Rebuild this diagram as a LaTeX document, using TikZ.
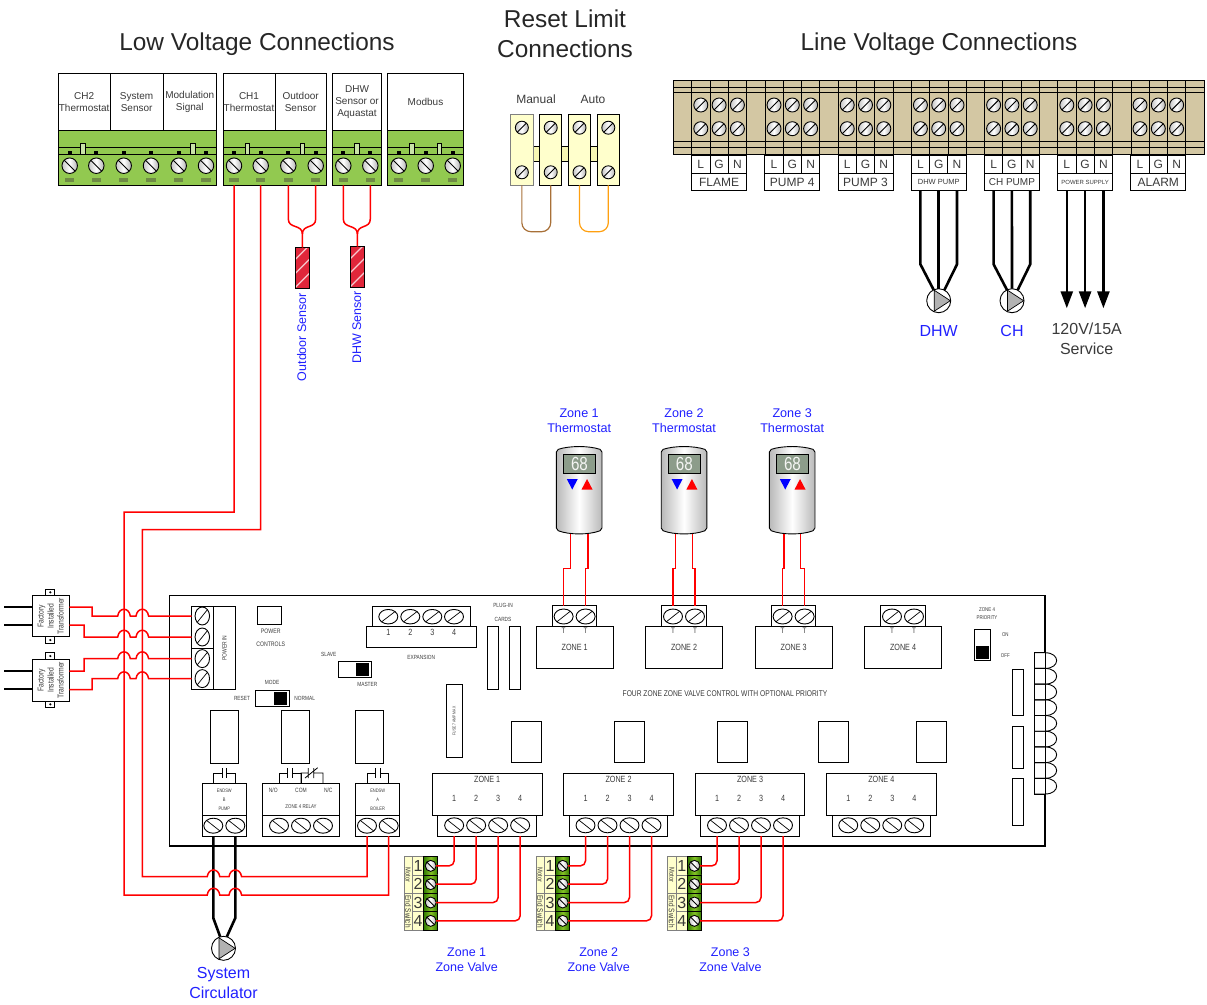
\documentclass[tikz,border=0pt]{standalone}
\usepackage{fontspec}
\setmainfont{Liberation Sans}
\newfontfamily\boardfont[FakeStretch=0.8]{Liberation Sans}
\usepackage{tikz}
\usetikzlibrary{arrows.meta,shapes}
\definecolor{lvgreen}{HTML}{92C950}
\definecolor{padolive}{HTML}{6E8A45}
\definecolor{beige}{HTML}{D3C7A3}
\definecolor{cream}{HTML}{FFFFCC}
\definecolor{palebar}{HTML}{F6F6B4}
\definecolor{darkgreen}{HTML}{2F7A00}
\definecolor{lightgreen}{HTML}{86C226}
\definecolor{labelblue}{HTML}{2020FF}
\definecolor{boardgray}{HTML}{3A3A3A}
\definecolor{lcdgray}{HTML}{8C9C8A}
\definecolor{jumpbrown}{HTML}{A87038}
\definecolor{jumporange}{HTML}{FFA010}
\definecolor{sensorred}{HTML}{E0263A}
\tikzset{
  bx/.style 2 args={draw=black, line width=0.9pt, fill=white, inner sep=0pt, outer sep=0pt, minimum width={#1*1pt}, minimum height={#2*1pt}},
  fscrew/.style={circle, draw=black, line width=0.9pt, inner sep=0pt, outer sep=0pt, minimum size=#1pt, left color=gray!45, right color=gray!60, middle color=white,
    path picture={\draw[line width=0.9pt] (path picture bounding box.south west) -- (path picture bounding box.north east);}},
  bscrew/.style={circle, draw=black, line width=0.9pt, inner sep=0pt, outer sep=0pt, minimum size=#1pt, left color=gray!45, right color=gray!60, middle color=white,
    path picture={\draw[line width=0.9pt] (path picture bounding box.north west) -- (path picture bounding box.south east);}},
  fflat/.style 2 args={ellipse, draw=black, line width=0.9pt, fill=white, inner sep=0pt, outer sep=0pt, minimum width=#1pt, minimum height=#2pt,
    path picture={\draw[line width=0.7pt] (path picture bounding box.south west) -- (path picture bounding box.north east);}},
  bflat/.style 2 args={ellipse, draw=black, line width=0.9pt, fill=white, inner sep=0pt, outer sep=0pt, minimum width=#1pt, minimum height=#2pt,
    path picture={\draw[line width=0.7pt] (path picture bounding box.north west) -- (path picture bounding box.south east);}},
  btxt/.style={font=\boardfont\fontsize{#1}{10}\selectfont, text=boardgray, inner sep=0pt, align=center},
  atxt/.style={font=\fontsize{#1}{12}\selectfont, text=boardgray, inner sep=0pt, align=center},
  bluetxt/.style={font=\fontsize{#1}{15}\selectfont, text=labelblue, inner sep=0pt, align=center},
  titletxt/.style={font=\fontsize{24.4}{30}\selectfont, text=black!85, inner sep=0pt, align=center},
  redwire/.style={draw=red, line width=1.5pt},
  blackwire/.style={draw=black, line width=2.6pt},
  sensorbox/.style={draw=black, line width=0.9pt, fill=sensorred, inner sep=0pt, outer sep=0pt, minimum width=14.4pt, minimum height=41pt,
    path picture={\foreach \s in {12,26,40} \draw[white!75!sensorred, line width=1.3pt] ([yshift=-\s pt]path picture bounding box.north west) -- ++(15pt,15pt);}},
  pumpcircle/.style={circle, draw=black, line width=0.9pt, fill=white, inner sep=0pt, outer sep=0pt, minimum size=24pt}
}
\newcommand{\wirehop}[2]{-- (#1-6.3,#2) .. controls (#1-5,#2-9) and (#1+5,#2-9) .. (#1+6.3,#2)}
\begin{document}
\begin{tikzpicture}[x=1pt, y=-1pt]
    \useasboundingbox (0,0) rectangle (1207,1004);

    % Titles
    \node[titletxt] (lvtitle) at (257,44.5) {Low Voltage Connections};
    \node[titletxt] (rltitle) at (565,34) {Reset Limit\\Connections};
    \node[titletxt] (linetitle) at (939,44.5) {Line Voltage Connections};

    % Low voltage terminal blocks
    \foreach \blk/\xl/\xr/\scr/\tabs in {a/58.3/216.3/{69.7,96.3,123.7,151,178.7,206}/{83,192.7},
        b/223/326.3/{234,260.7,288.3,315.7}/{247.3,302.3},
        c/332.7/381.3/{343.3,370.3}/{357},
        d/387.7/463.3/{398.7,425.7,452.7}/{412,439.3}} {
      \node[bx={(\xr-\xl)}{55}, fill=lvgreen] (lvg\blk) at ({(\xl+\xr)/2},157.8) {};
      \draw[line width=0.9pt] (lvg\blk.west |- 0,147.7) -- (lvg\blk.east |- 0,147.7);
      \draw[line width=0.9pt] (lvg\blk.west |- 0,154.3) -- (lvg\blk.east |- 0,154.3);
      \foreach \t in \tabs
        \node[bx={4.5}{11}, fill=lvgreen!50!white] (lvt\blk\t) at (\t,148.5) {};
      \foreach \s [count=\k] in \scr {
        \node[fill=black, inner sep=0pt, minimum width=4pt, minimum height=3pt] (lvn\blk\k) at (\s,152) {};
        \node[fill=padolive, inner sep=0pt, minimum width=9.5pt, minimum height=4pt] (lvp\blk\k) at (\s,180) {};
        \node[bscrew=15.5] (lvs\blk\k) at (\s,165.7) {};
      }
    }
    \foreach \nm/\xl/\xr/\txt in {ch2/58.3/110/{CH2\\Thermostat}, sys/110/163.3/{System\\Sensor}, mod/163.3/216.3/{Modulation\\Signal},
        ch1/223/275/{CH1\\Thermostat}, out/275/326.3/{Outdoor\\Sensor}, dhw/332.7/381.3/{DHW\\Sensor or\\Aquastat}, bus/387.7/463.3/{Modbus}}
      \node[bx={(\xr-\xl)}{56.6}, atxt=10] (lc\nm) at ({(\xl+\xr)/2},102) {\txt};

    % Reset limit terminals
    \foreach \b/\bc in {1/536.35, 2/565, 3/593.5}
      \node[bx={7.5}{14.5}, fill=palebar] (rbar\b) at (\bc,153.8) {};
    \foreach \b/\bc/\dc in {1/521.85/gray, 2/550.7/black, 3/579.5/black, 4/608.3/black} {
      \node[bx={22.2}{71}, fill=cream, draw=\dc] (rb\b) at (\bc,149.8) {};
      \node[fscrew=13] (rs\b a) at (\bc,127.7) {};
      \node[fscrew=13] (rs\b b) at (\bc,172.3) {};
    }
    \node[atxt=12] (rmanual) at (536,99) {Manual};
    \node[atxt=12] (rauto) at (593,99) {Auto};
    \draw[jumpbrown, line width=1.2pt, rounded corners=9pt] (rb1.south) -- (rb1.south |- 0,231.7) -- (rb2.south |- 0,231.7) -- (rb2.south);
    \draw[jumporange, line width=1.2pt, rounded corners=9pt] (rb3.south) -- (rb3.south |- 0,231.7) -- (rb4.south |- 0,231.7) -- (rb4.south);

    % Line voltage strip
    \node[bx={531}{73.3}, fill=beige] (lstrip) at (938.5,117.35) {};
    \foreach \yy in {87.3,92.7,141.7,147}
      \draw[line width=0.6pt] (lstrip.west |- 0,\yy) -- (lstrip.east |- 0,\yy);
    \foreach \n in {0,...,27}
      \draw[line width=0.6pt] ({691.6+18.3*\n},80.7) -- ({691.6+18.3*\n},154);
    \foreach \g/\lname/\lsize in {0/FLAME/12, 1/PUMP 4/12, 2/PUMP 3/12, 3/DHW PUMP/7.5, 4/CH PUMP/10, 5/POWER SUPPLY/6, 6/ALARM/12} {
      \foreach \k/\ltr/\off in {1/L/-18.3, 2/G/0, 3/N/18.3} {
        \node[fscrew=14] (ls\g\k a) at ({719.1+73.2*\g+\off},105) {};
        \node[fscrew=14] (ls\g\k b) at ({719.1+73.2*\g+\off},128.7) {};
        \node[bx={18.3}{18}, atxt=12] (lc\g\k) at ({719.1+73.2*\g+\off},164.3) {\ltr};
      }
      \node[bx={54.9}{17.4}, font=\fontsize{\lsize}{12}\selectfont, text=boardgray] (lname\g) at ({719.1+73.2*\g},182) {\lname};
    }

    % Pumps and service wires
    \node[pumpcircle] (dhwpump) at (938.7,300.7) {};
    \node[pumpcircle] (chpump) at (1012,300.7) {};
    \node[pumpcircle] (syspump) at (223.5,948.3) {};
    \foreach \p/\px/\py in {dhwpump/938.7/300.7, chpump/1012/300.7, syspump/223.5/948.3}
      \draw[fill=gray!60, line width=0.7pt] (\px-4.5,\py-10.5) -- (\px+11.6,\py) -- (\px-4.5,\py+10.5) -- cycle;
    \draw[blackwire] (lc31 |- lname3.south) -- (lc31 |- 0,264.3) -- (dhwpump.115);
    \draw[blackwire] (lc32 |- lname3.south) -- (dhwpump.north);
    \draw[blackwire] (lc33 |- lname3.south) -- (lc33 |- 0,264.3) -- (dhwpump.62);
    \draw[blackwire] (lc41 |- lname4.south) -- (lc41 |- 0,264.3) -- (chpump.115);
    \draw[blackwire] (lc42 |- lname4.south) -- (chpump.north);
    \draw[blackwire] (lc43 |- lname4.south) -- (lc43 |- 0,264.3) -- (chpump.62);
    \foreach \k in {1,2,3} {
      \coordinate (svc\k) at (lc5\k |- 0,308.3);
      \draw[blackwire, -{Triangle[length=17pt,width=12pt]}] (lc5\k |- lname5.south) -- (svc\k);
    }
    \node[bluetxt=16] (dhwlabel) at (938.7,331) {DHW};
    \node[bluetxt=16] (chlabel) at (1012,331) {CH};
    \node[atxt=16, font=\fontsize{16}{20}\selectfont] (svclabel) at (1086.7,338.5) {120V/15A\\Service};

    % Sensors
    \node[sensorbox] (oss) at (302.5,268) {};
    \node[sensorbox] (dss) at (357.5,267.2) {};
    \coordinate (ossj) at (302.4,234);
    \coordinate (dssj) at (357.4,234);
    \draw[redwire] (lvsb3 |- lvgb.south) -- (lvsb3 |- 0,219) .. controls (lvsb3 |- 0,229) and (ossj |- 0,224) .. (ossj) -- (oss.north);
    \draw[redwire] (lvsb4 |- lvgb.south) -- (lvsb4 |- 0,219) .. controls (lvsb4 |- 0,229) and (ossj |- 0,224) .. (ossj);
    \draw[redwire] (lvsc1 |- lvgc.south) -- (lvsc1 |- 0,219) .. controls (lvsc1 |- 0,229) and (dssj |- 0,224) .. (dssj) -- (dss.north);
    \draw[redwire] (lvsc2 |- lvgc.south) -- (lvsc2 |- 0,219) .. controls (lvsc2 |- 0,229) and (dssj |- 0,224) .. (dssj);
    \node[bluetxt=12.5, rotate=90] (osslabel) at (301.7,337) {Outdoor Sensor};
    \node[bluetxt=12.5, rotate=90] (dsslabel) at (356.7,327.5) {DHW Sensor};

    % Control board
    \node[bx={875.3}{250.3}, line width=1.2pt] (board) at (607.35,720.85) {};
    \node[bx={44}{83.3}] (pwin) at (213.7,647.65) {};
    \draw[line width=0.9pt] (213.3,606) -- (213.3,689.3);
    \draw[line width=0.9pt] (191.7,648) -- (213.3,648);
    \foreach \k/\yy in {1/616,2/637,3/658.6,4/678.6}
      \node[fflat={14.5}{18}] (pw\k) at (202.3,\yy) {};
    \node[btxt=6.2, rotate=90] (pwtxt) at (224.5,648) {POWER IN};
    \node[bx={24.4}{18.3}] (pctl) at (269.5,615.2) {};
    \node[btxt=6.5] (pctla) at (270.7,631.7) {POWER};
    \node[btxt=6.5] (pctlb) at (270.7,644.7) {CONTROLS};

    % Expansion, cards, fuse
    \node[bx={109.3}{21}] (expbox) at (421.3,637.2) {};
    \node[bx={98}{20.7}] (expsb) at (421.3,616.4) {};
    \foreach \k/\ex in {1/388.3,2/410.3,3/432.3,4/454} {
      \node[fflat={19}{14.5}] (exs\k) at (\ex,616.7) {};
      \node[btxt=9] (exn\k) at (\ex,632) {\k};
    }
    \node[btxt=6] (exptxt) at (421.3,657.7) {EXPANSION};
    \node[btxt=6] (plugin) at (503,605.7) {PLUG-IN};
    \node[btxt=6] (cards) at (503,619) {CARDS};
    \node[bx={11}{62.6}] (carda) at (492.5,658) {};
    \node[bx={11}{62.6}] (cardb) at (514.5,658) {};
    \node[bx={16.3}{73}] (fuse) at (454.15,720.8) {};
    \node[btxt=4.3, rotate=90] (fusetxt) at (454.15,721) {FUSE 7 AMP MAX};

    % Switches
    \node[btxt=6] (slave) at (328.7,654.7) {SLAVE};
    \node[bx={33}{16}] (slavesw) at (354.5,669.3) {};
    \node[bx={11.6}{12}, fill=black] (slavekn) at (362.5,669.3) {};
    \node[btxt=6] (master) at (367.3,684.3) {MASTER};
    \node[btxt=6] (mode) at (272,682.7) {MODE};
    \node[btxt=6] (reset) at (242,698.7) {RESET};
    \node[btxt=6] (normal) at (304.7,698.7) {NORMAL};
    \node[bx={33.3}{16}] (modesw) at (272.3,698.7) {};
    \node[bx={12}{12}, fill=black] (modekn) at (280.7,698.7) {};
    \node[btxt=5.5] (prioa) at (987,610) {ZONE 4};
    \node[btxt=5.5] (priob) at (987,617.7) {PRIORITY};
    \node[bx={16}{31.4}] (priosw) at (982.3,645) {};
    \node[bx={11.4}{11.4}, fill=black] (priokn) at (982.3,652.4) {};
    \node[btxt=5.5] (prioon) at (1005.3,634.7) {ON};
    \node[btxt=5.5] (priooff) at (1005.3,655.7) {OFF};

    % Relays
    \foreach \r/\rx in {a/224.5,b/295.5,c/369.5}
      \node[bx={27.6}{52.7}] (rel\r) at (\rx,736.7) {};
    \foreach \r/\rx in {a/526.7,b/629.5,c/732.5,d/833.5,e/931.7}
      \node[bx={30.4}{41.7}] (sq\r) at (\rx,741.8) {};
    \foreach \ca/\cb/\cm in {213.3/235.3/224.3, 279/301/289.6, 367/388.7/377.8}
      \draw[line width=0.8pt] (\ca,783.7) |- (\cm-2.3,773) (\cm-2.3,768) -- (\cm-2.3,778) (\cm+2.3,768) -- (\cm+2.3,778) (\cm+2.3,773) -| (\cb,783.7);
    \draw[line width=0.8pt] (301,783.7) |- (308.3,773) (308.3,768) -- (308.3,778) (313.7,768) -- (313.7,778) (305,778) -- (317.7,767.7) (313.7,773) -| (323,783.7);
    \node[bx={44}{31.5}] (pumpbox) at (224.3,799.4) {};
    \node[bx={44}{21}] (pumpsb) at (224.3,825.6) {};
    \node[bx={76.7}{31.5}] (relbox) at (301,799.4) {};
    \node[bx={76.7}{21}] (relsb) at (301,825.6) {};
    \node[bx={43.6}{31.5}] (boilbox) at (377.5,799.4) {};
    \node[bx={43.6}{21}] (boilsb) at (377.5,825.6) {};
    \foreach \nm/\sx in {pa/213.3,pb/235.3,ra/279,rb/301,rc/323,ba/367,bb/388.7}
      \node[bflat={19}{15}] (sc\nm) at (\sx,825.7) {};
    \node[btxt=5] (pumpa) at (224.3,791) {ENDSW};
    \node[btxt=5] (pumpb) at (224.3,800) {B};
    \node[btxt=5] (pumpc) at (224.3,809) {PUMP};
    \node[btxt=5] (boila) at (377.7,791) {ENDSW};
    \node[btxt=5] (boilb) at (377.7,800) {A};
    \node[btxt=5] (boilc) at (377.7,809) {BOILER};
    \node[btxt=6.2] (relno) at (273.3,790.7) {N/O};
    \node[btxt=6.2] (relcom) at (301,790.7) {COM};
    \node[btxt=6.2] (relnc) at (328.3,790.7) {N/C};
    \node[btxt=5.5] (relname) at (301,807) {ZONE 4 RELAY};

    % Upper zone blocks
    \foreach \z/\zc in {1/574.6,2/684,3/793.6,4/903} {
      \node[bx={76.7}{42}, btxt=9] (zbox\z) at (\zc,647.7) {ZONE \z};
      \node[bx={44.2}{21}] (zsb\z) at (\zc,616.2) {};
      \node[fflat={19}{15}] (zt\z a) at (\zc-11,616.5) {};
      \node[fflat={19}{15}] (zt\z b) at (\zc+11,616.5) {};
      \node[btxt=8] (zta\z) at (\zc-11,631) {T};
      \node[btxt=8] (ztb\z) at (\zc+11,631) {T};
    }
    \node[btxt=8.35] (boardname) at (725,694) {FOUR ZONE ZONE VALVE CONTROL WITH OPTIONAL PRIORITY};

    % Lower zone blocks
    \foreach \z/\zc in {1/487.15,2/618.5,3/750,4/881.25} {
      \node[bx={109.6}{41.7}] (zlow\z) at (\zc,794.2) {};
      \node[bx={98.6}{21}] (zbs\z) at (\zc,825.5) {};
      \node[btxt=9] (zlowt\z) at (\zc,779) {ZONE \z};
      \foreach \k/\off in {1/-33,2/-11,3/11,4/33} {
        \node[bflat={19}{15}] (zb\z\k) at (\zc+\off,825.3) {};
        \node[btxt=9] (zbn\z\k) at (\zc+\off,798.7) {\k};
      }
    }

    % Side fuses and LED strip
    \node[bx={11.4}{46.7}] (sida) at (1018,692.3) {};
    \node[bx={11.4}{41.7}] (sidb) at (1018,747.2) {};
    \node[bx={11.4}{47}] (sidc) at (1018,801.8) {};
    \node[bx={10.7}{141.3}] (ledbar) at (1039.65,723.35) {};
    \foreach \n in {0,...,8}
      \draw[line width=0.9pt] (1034.3,652.7+15.7*\n) -- (1045,652.7+15.7*\n) .. controls (1060.5,652.7+15.7*\n) and (1060.5,668.4+15.7*\n) .. (1045,668.4+15.7*\n) -- (1034.3,668.4+15.7*\n);

    % Thermostats
    \foreach \t/\tx in {1/579.15,2/684,3/792.15} {
      \draw[line width=0.9pt, left color=gray!55, right color=gray!55, middle color=white, rounded corners=2pt] (\tx-22.8,450) .. controls (\tx-10,445.6) and (\tx+10,445.6) .. (\tx+22.8,450) -- (\tx+22.8,530) .. controls (\tx+10,535) and (\tx-10,535) .. (\tx-22.8,530) -- cycle;
      \node[inner sep=0pt, minimum width=45.6pt, minimum height=86.6pt] (tst\t) at (\tx,490) {};
      \node[bx={32.4}{18.7}, fill=lcdgray, btxt=19, text=white!90!lcdgray] (lcd\t) at (\tx+0.3,463.7) {68};
      \fill[blue] (\tx-12.4,479) -- (\tx-1.4,479) -- (\tx-6.9,489.5) -- cycle;
      \fill[red] (\tx+2.4,489.5) -- (\tx+13.4,489.5) -- (\tx+7.9,479) -- cycle;
      \node[bluetxt=12.6] (tstlabel\t) at (\tx,420.3) {Zone \t\\Thermostat};
    }
    \draw[redwire] ([xshift=-8.5pt]tst1.south) -- ++(0,35) -| (zt1a |- zsb1.north);
    \draw[redwire] ([xshift=8.85pt]tst1.south) -- ++(0,35) -| (zt1b |- zsb1.north);
    \draw[redwire] ([xshift=-8.7pt]tst2.south) -- ++(0,35) -| (zt2a |- zsb2.north);
    \draw[redwire] ([xshift=8.7pt]tst2.south) -- ++(0,35) -| (zt2b |- zsb2.north);
    \draw[redwire] ([xshift=-8.15pt]tst3.south) -- ++(0,35) -| (zt3a |- zsb3.north);
    \draw[redwire] ([xshift=8.55pt]tst3.south) -- ++(0,35) -| (zt3b |- zsb3.north);

    % Zone valve strips
    \foreach \v/\vx in {1/404,2/536,3/667.7} {
      \node[bx={8.3}{36.6}, fill=cream, btxt=7.2, rotate=-90, minimum width=36.6pt, minimum height=8.3pt, draw=gray] (vma\v) at (\vx+4.15,875) {Motor};
      \node[bx={8.3}{36.6}, fill=cream, btxt=8, rotate=-90, minimum width=36.6pt, minimum height=8.3pt, draw=gray] (vmb\v) at (\vx+4.15,911.7) {End Switch};
      \foreach \k/\yy in {1/865.85,2/884.15,3/902.5,4/920.85} {
        \node[bx={11.4}{18.35}, fill=cream, atxt=16, draw=gray, line width=0.6pt] (vn\v\k) at (\vx+14,\yy) {\k};
        \node[bx={14}{18.35}, left color=darkgreen, right color=darkgreen, middle color=lightgreen, line width=0.6pt] (vg\v\k) at (\vx+26.7,\yy) {};
        \node[bscrew=11] (vs\v\k) at (\vx+26.7,\yy) {};
      }
      \foreach \k in {1,2,3,4}
        \draw[redwire, rounded corners=5pt] (zb\v\k |- zbs\v.south) |- (vs\v\k.east);
      \node[bluetxt=12.5] (vlabel\v) at (\vx+62.7,959.3) {Zone \v\\Zone Valve};
    }

    % Transformers
    \node[bx={37}{41}] (xf1) at (50.8,616.2) {};
    \node[bx={37}{41.7}] (xf2) at (50.8,680.2) {};
    \foreach \xf/\ya/\yb/\ta/\tb in {1/607.3/625/592.3/640, 2/670.7/689/656/704.3} {
      \node[bx={9}{6.6}] (xf\xf t) at (50.3,\ta) {};
      \node[bx={9}{6.6}] (xf\xf b) at (50.3,\tb) {};
      \fill (50.3,\ta) circle[radius=1.2pt];
      \fill (50.3,\tb) circle[radius=1.2pt];
      \draw[black, line width=2pt] (xf\xf.west |- 0,\ya) -- (4,\ya);
      \draw[black, line width=2pt] (xf\xf.west |- 0,\yb) -- (4,\yb);
      \node[btxt=8.5, rotate=90] (xftxt\xf) at (xf\xf) {Factory\\Installed\\Transformer};
    }
    \draw[redwire] (xf1.east |- 0,607) -| (92,616) \wirehop{124}{616} \wirehop{142.3}{616} -- (pwin.west |- pw1);
    \draw[redwire] (xf1.east |- 0,625) -| (84,637) \wirehop{124}{637} \wirehop{142.3}{637} -- (pwin.west |- pw2);
    \draw[redwire] (xf2.east |- 0,671) -| (84,658.6) \wirehop{124}{658.6} \wirehop{142.3}{658.6} -- (pwin.west |- pw3);
    \draw[redwire] (xf2.east |- 0,689.5) -| (92,678.6) \wirehop{124}{678.6} \wirehop{142.3}{678.6} -- (pwin.west |- pw4);

    % CH1 thermostat wires and circulator
    \draw[blackwire] (scpa |- pumpsb.south) -- (scpa |- 0,918) -- (syspump.106);
    \draw[blackwire] (scpb |- pumpsb.south) -- (scpb |- 0,918) -- (syspump.74);
    \draw[redwire] (lvsb1 |- lvgb.south) |- (124,512) -- (124,895) \wirehop{213.5}{895} \wirehop{235.3}{895} -| (scbb |- boilsb.south);
    \draw[redwire] (lvsb2 |- lvgb.south) |- (142.3,529.5) -- (142.3,876.7) \wirehop{213.5}{876.7} \wirehop{235.3}{876.7} -| (scba |- boilsb.south);
    \node[bluetxt=16, font=\fontsize{16}{19.5}\selectfont] (syslabel) at (223.5,983) {System\\Circulator};
\end{tikzpicture}
\end{document}
